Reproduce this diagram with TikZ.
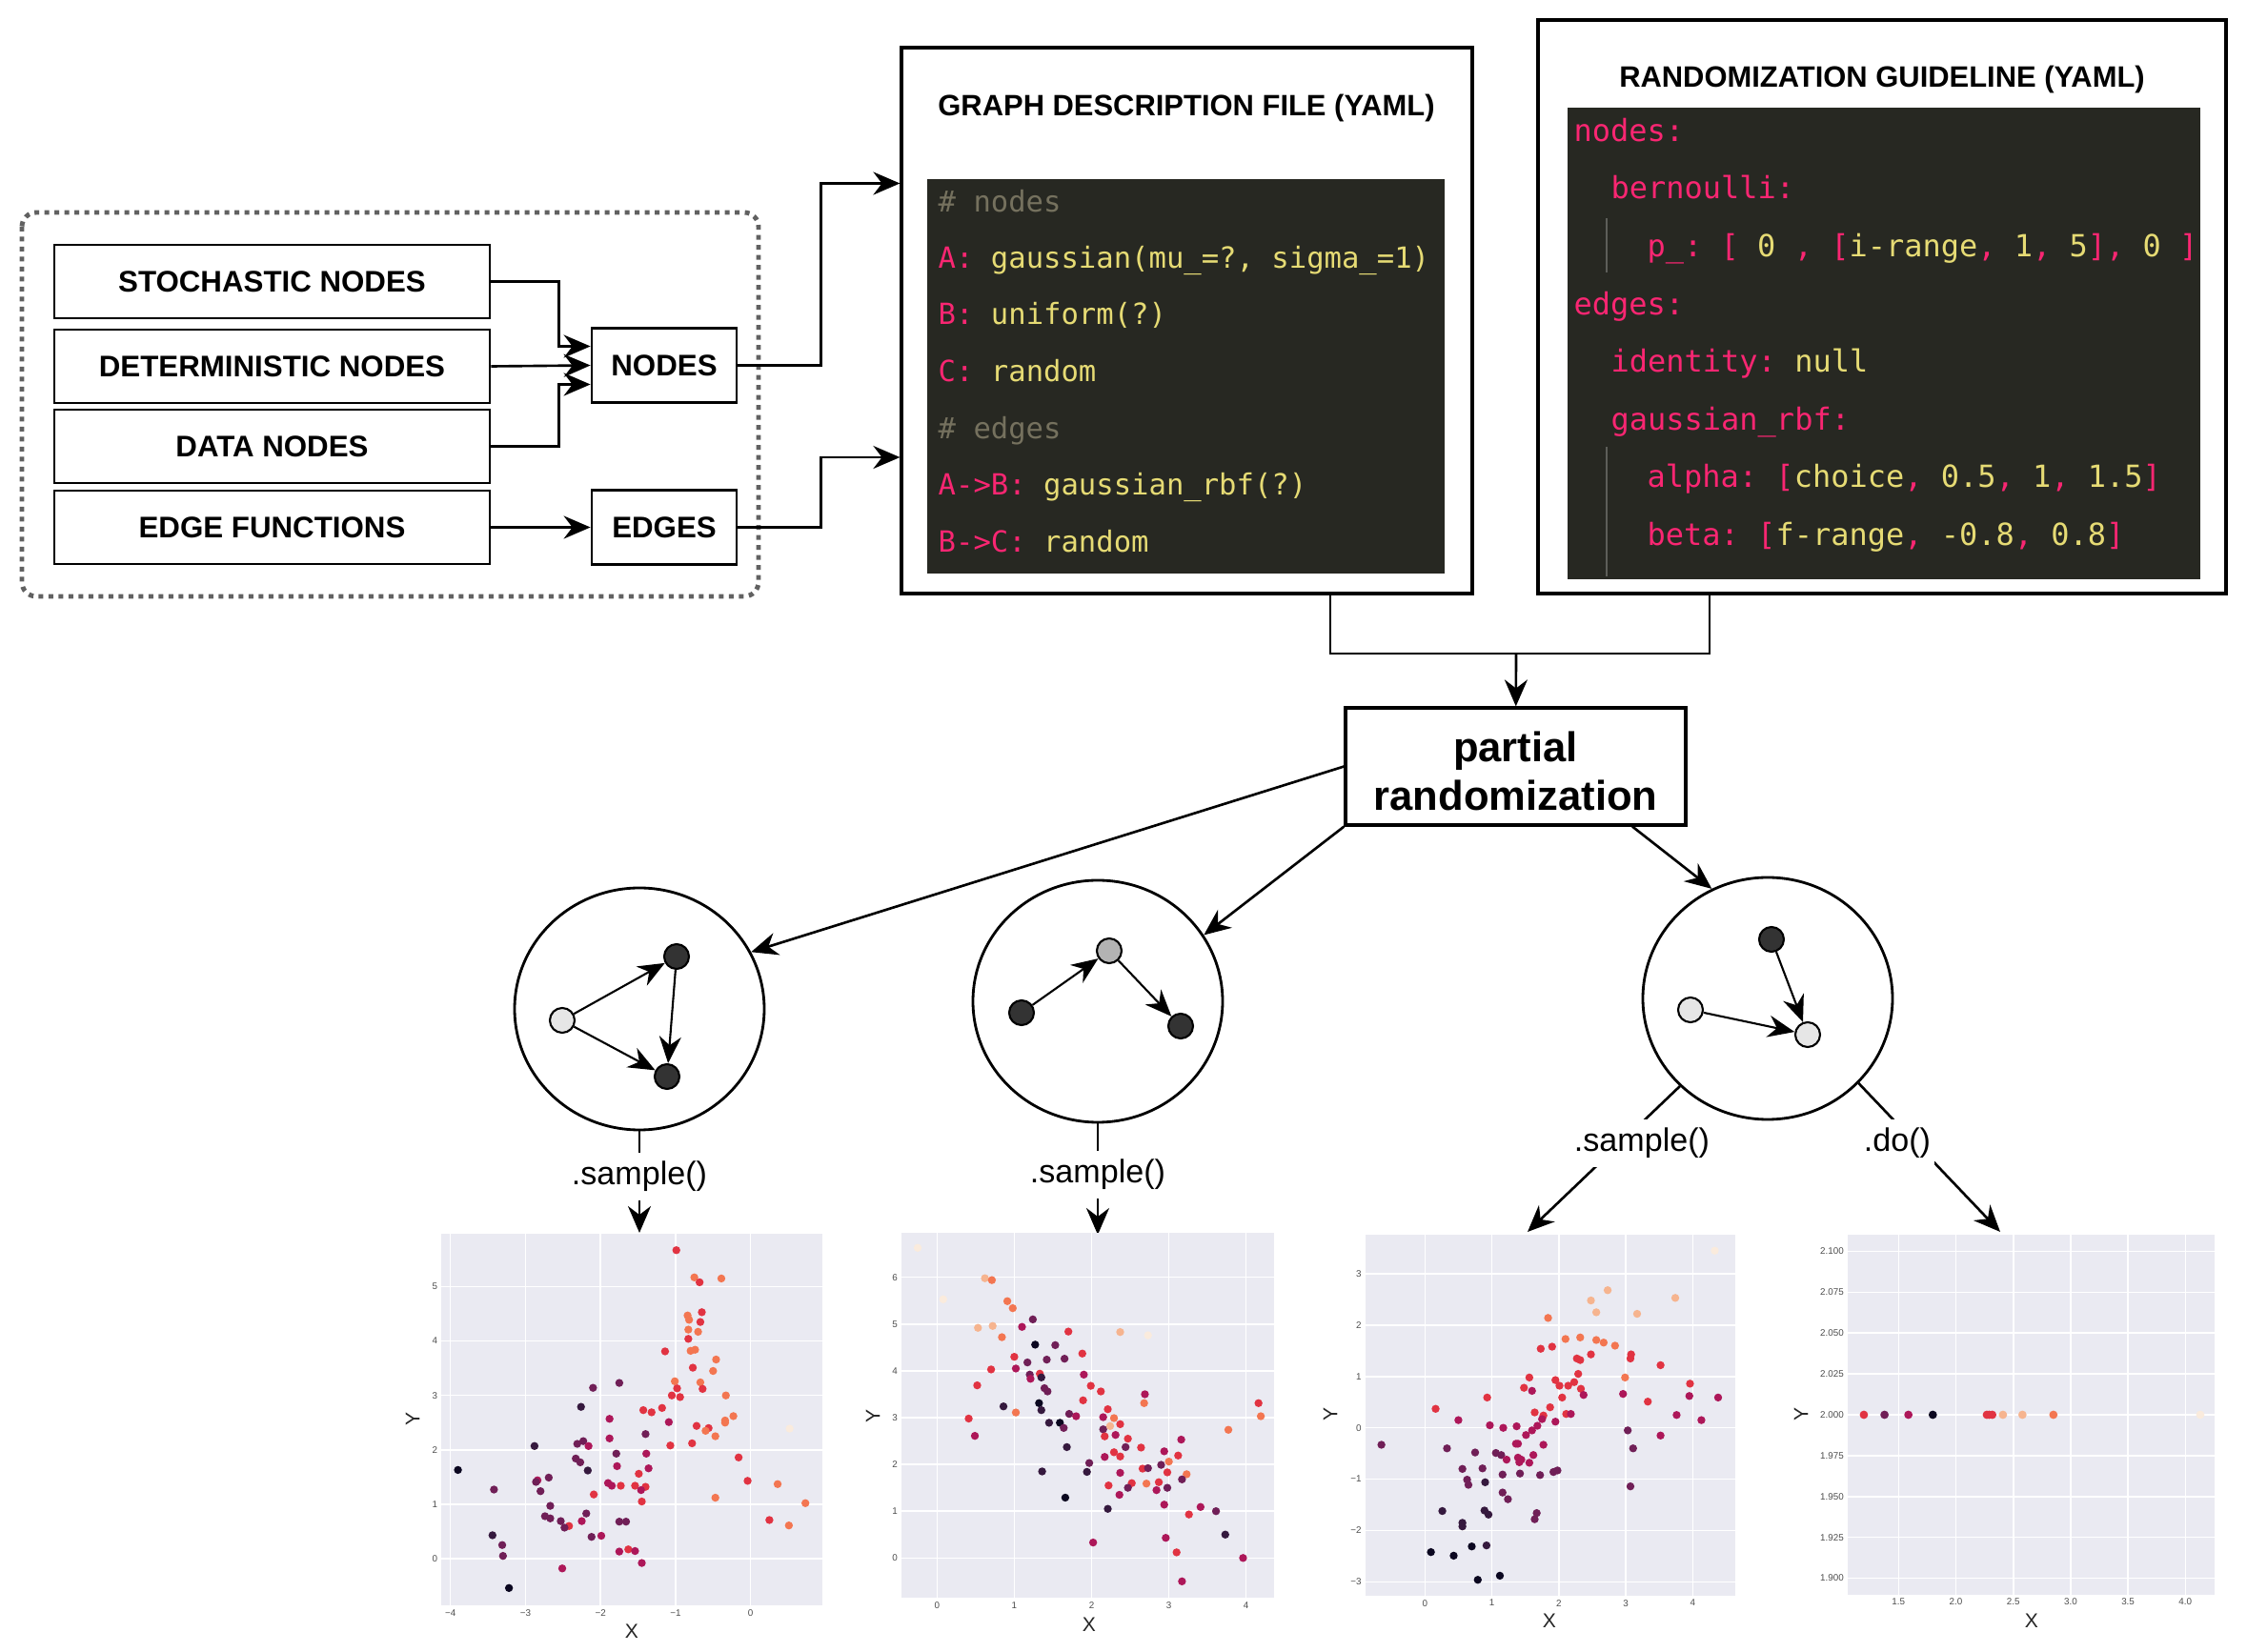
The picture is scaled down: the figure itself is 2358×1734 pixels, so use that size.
\documentclass[tikz,border=0pt]{standalone}
\usepackage{fontspec}
\setmainfont{Liberation Sans}
\newfontfamily\codefont{DejaVu Sans Mono}
\usetikzlibrary{arrows.meta,positioning,shapes.geometric}

\definecolor{ymlbg}{HTML}{272822}
\definecolor{ymlpink}{HTML}{F92672}
\definecolor{ymlyellow}{HTML}{E6DB74}
\definecolor{ymlgrey}{HTML}{75715E}
\definecolor{plotbg}{HTML}{EAEAF2}
\definecolor{tickgrey}{HTML}{4D4D4D}
\definecolor{nodedark}{HTML}{333333}
\definecolor{nodelight}{HTML}{E6E6E6}
\definecolor{nodemid}{HTML}{B3B3B3}
% rocket palette
\definecolor{rk0}{HTML}{0B0720}
\definecolor{rk1}{HTML}{35193E}
\definecolor{rk2}{HTML}{701F57}
\definecolor{rk3}{HTML}{AD1759}
\definecolor{rk4}{HTML}{E13342}
\definecolor{rk5}{HTML}{F37651}
\definecolor{rk6}{HTML}{F6B48F}
\definecolor{rk7}{HTML}{FAEBDD}

\newcommand{\ykey}[1]{\textcolor{ymlpink}{#1}}
\newcommand{\yval}[1]{\textcolor{ymlyellow}{#1}}

\tikzset{
  namebox/.style={draw, line width=0.8pt, inner sep=0pt, minimum width=45.7mm,
    minimum height=7.7mm, font=\fontsize{8.9}{10}\selectfont\bfseries},
  setbox/.style={draw, line width=0.8pt, inner sep=0pt, minimum width=15.2mm,
    minimum height=7.8mm, font=\fontsize{8.9}{10}\selectfont\bfseries},
  groupframe/.style={draw=black!62, line width=1.4pt, rounded corners=1.5mm,
    dash pattern=on 0.5mm off 0.55mm},
  filebox/.style={draw, line width=0.9pt, inner sep=0pt},
  titletext/.style={inner sep=0pt, font=\fontsize{8.8}{10}\selectfont\bfseries},
  codebox/.style={fill=ymlbg, inner sep=0pt},
  codeA/.style={anchor=west, inner sep=0pt, text height=2.1mm, text depth=0.6mm,
    font=\codefont\fontsize{8.7}{10}\selectfont\frenchspacing},
  codeB/.style={anchor=west, inner sep=0pt, text height=2.2mm, text depth=0.6mm,
    font=\codefont\fontsize{9.1}{10}\selectfont\frenchspacing},
  guide/.style={draw=white!25!ymlbg, line width=0.5pt},
  partialbox/.style={draw, line width=0.9pt, inner sep=0pt},
  partialtext/.style={inner sep=0pt, align=center,
    font=\fontsize{12.4}{14.5}\selectfont\bfseries},
  conn/.style={line width=0.75pt},
  graphcircle/.style={draw, ellipse, line width=0.8pt, inner sep=0pt,
    minimum width=26.2mm, minimum height=25.4mm},
  gdot/.style={draw, circle, line width=0.6pt, inner sep=0pt, minimum size=2.6mm},
  gedge/.style={line width=0.6pt, -{Stealth[length=2.8mm,width=2.3mm]}},
  calllbl/.style={fill=white, inner xsep=0.4mm, inner ysep=0.9mm,
    font=\fontsize{9.7}{11}\selectfont},
  gridline/.style={white, line width=0.45pt},
  ticklbl/.style={inner sep=0.35mm, text=tickgrey, font=\fontsize{2.8}{3}\selectfont},
  axislbl/.style={inner sep=0pt, text=black!85, font=\fontsize{6}{7}\selectfont},
}

\begin{document}
\begin{tikzpicture}[x=0.1mm, y=-0.1mm, >={Stealth[length=2.8mm,width=2.4mm]}]
  \useasboundingbox (0,0) rectangle (2358,1734);

  % node and edge types
  \draw[groupframe] (23,223) rectangle (796,626);
  \node[namebox] (stoch) at (285.5,295.5) {STOCHASTIC NODES};
  \node[namebox] (determ) at (285.5,384.5) {DETERMINISTIC NODES};
  \node[namebox] (datan) at (285.5,468.5) {DATA NODES};
  \node[namebox] (edgefn) at (285.5,553.5) {EDGE FUNCTIONS};
  \node[setbox] (nodeset) at (697,383.5) {NODES};
  \node[setbox] (edgeset) at (697,553.5) {EDGES};

  \draw[conn,->] (stoch.east) -- ++(71,0) |- ([yshift=2mm]nodeset.west);
  \draw[conn,->] (determ.east) -- (nodeset.west);
  \draw[conn,->] (datan.east) -- ++(71,0) |- ([yshift=-2mm]nodeset.west);
  \draw[conn,->] (edgefn.east) -- (edgeset.west);

  % graph description file
  \node[filebox, minimum width=59.9mm, minimum height=57.3mm] (graphfile) at (1245.5,336.5) {};
  \node[titletext] (graphtitle) at (1245,114) {GRAPH DESCRIPTION FILE (YAML)};
  \node[codebox, minimum width=54.3mm, minimum height=41.4mm] (graphcode) at (1244.5,395) {};
  \node[codeA] (g1) at (984,215) {\textcolor{ymlgrey}{\# nodes}};
  \node[codeA] (g2) at (984,274) {\ykey{A:} \yval{gaussian(mu\_=?, sigma\_=1)}};
  \node[codeA] (g3) at (984,333) {\ykey{B:} \yval{uniform(?)}};
  \node[codeA] (g4) at (984,393) {\ykey{C:} \yval{random}};
  \node[codeA] (g5) at (984,453) {\textcolor{ymlgrey}{\# edges}};
  \node[codeA] (g6) at (984,512) {\ykey{A->B:} \yval{gaussian\_rbf(?)}};
  \node[codeA] (g7) at (984,572) {\ykey{B->C:} \yval{random}};

  \draw[conn,->] (nodeset.east) -- ++(87,0) |- ([yshift=14.4mm]graphfile.west);
  \draw[conn,->] (edgeset.east) -- ++(87,0) |- ([yshift=-14.35mm]graphfile.west);

  % randomization guideline
  \node[filebox, minimum width=72.2mm, minimum height=60.2mm] (randguide) at (1975,322) {};
  \node[titletext] (randtitle) at (1975,84) {RANDOMIZATION GUIDELINE (YAML)};
  \node[codebox, minimum width=66.4mm, minimum height=49.5mm] (randcode) at (1977,360.5) {};
  \draw[guide] (1686,229) -- (1686,286);
  \draw[guide] (1686,469) -- (1686,605);
  \node[codeB] (r1) at (1651,141) {\ykey{nodes:}};
  \node[codeB] (r2) at (1690,201) {\ykey{bernoulli:}};
  \node[codeB] (r3) at (1728,262) {\ykey{p\_: [ }\yval{0}\ykey{\ , [}\yval{i-range}\ykey{,}\yval{\ 1}\ykey{,}\yval{\ 5}\ykey{],}\yval{\ 0}\ykey{\ ]}};
  \node[codeB] (r4) at (1651,323) {\ykey{edges:}};
  \node[codeB] (r5) at (1690,383) {\ykey{identity:} \yval{null}};
  \node[codeB] (r6) at (1690,444) {\ykey{gaussian\_rbf:}};
  \node[codeB] (r7) at (1728,504) {\ykey{alpha: [}\yval{choice}\ykey{,}\yval{\ 0.5}\ykey{,}\yval{\ 1}\ykey{,}\yval{\ 1.5}\ykey{]}};
  \node[codeB] (r8) at (1728,565) {\ykey{beta: [}\yval{f-range}\ykey{,}\yval{\ -0.8}\ykey{,}\yval{\ 0.8}\ykey{]}};

  % partial randomization
  \node[partialbox, minimum width=35.7mm, minimum height=12.3mm] (partial) at (1590.5,804.5) {};
  \node[partialtext] (partialtxt) at (1590.5,809) {partial\\randomization};
  \coordinate (merge) at (1591,686);
  \draw[conn] ([xshift=15.05mm]graphfile.south) |- (merge) -| ([xshift=-18.1mm]randguide.south);
  \draw[conn,->] (merge) -- (partial);

  % sampled graphs
  \node[graphcircle] (cA) at (671,1059) {};
  \node[graphcircle] (cB) at (1152,1051) {};
  \node[graphcircle] (cC) at (1855,1048) {};
  \draw[conn,->] (partial.west) -- (cA.27);
  \draw[conn,->] (partial.south west) -- (cB.32);
  \draw[conn,->] ([xshift=12.25mm]partial.south) -- (cC.117);

  \node[gdot, fill=nodelight] (a1) at (590,1071) {};
  \node[gdot, fill=nodedark] (a2) at (710,1004) {};
  \node[gdot, fill=nodedark] (a3) at (700,1130) {};
  \draw[gedge] (a1) -- (a2);
  \draw[gedge] (a1) -- (a3);
  \draw[gedge] (a2) -- (a3);

  \node[gdot, fill=nodedark] (b1) at (1072,1063) {};
  \node[gdot, fill=nodemid] (b2) at (1164,998) {};
  \node[gdot, fill=nodedark] (b3) at (1239,1077) {};
  \draw[gedge] (b1) -- (b2);
  \draw[gedge] (b2) -- (b3);

  \node[gdot, fill=nodedark] (c1) at (1859,986) {};
  \node[gdot, fill=nodelight] (c2) at (1774,1060) {};
  \node[gdot, fill=nodelight] (c3) at (1897,1086) {};
  \draw[gedge] (c1) -- (c3);
  \draw[gedge] (c2) -- (c3);

  % calls
  \coordinate (p1top) at (671,1294);
  \coordinate (p2top) at (1152,1296);
  \coordinate (p3top) at (1603,1293);
  \coordinate (p4top) at (2099,1293);
  \draw[conn,->] (cA.south) -- (p1top);
  \draw[conn,->] (cB.south) -- (p2top);
  \draw[conn,->] (cC.225) -- (p3top);
  \draw[conn,->] (cC.-43) -- (p4top);
  \node[calllbl] (callA) at (671,1235) {.sample()};
  \node[calllbl] (callB) at (1152,1233) {.sample()};
  \node[calllbl] (callC) at (1723,1200) {.sample()};
  \node[calllbl] (callD) at (1991,1200) {.do()};

  % scatter plot 1
  \begin{scope}[shift={(787.7,1636)}, x=7.875mm, y=5.71mm]
    \fill[plotbg] (-4.12,-0.86) rectangle (0.96,5.97);
    \foreach \gx in {-4,...,0} \draw[gridline] (\gx,-0.86) -- (\gx,5.97);
    \foreach \gy in {0,...,5} \draw[gridline] (-4.12,\gy) -- (0.96,\gy);
    \foreach \gx/\gl in {-4/−4,-3/−3,-2/−2,-1/−1,0/0}
      \node[ticklbl, anchor=north] (t1x\gx) at (\gx,-0.86) {\gl};
    \foreach \gy in {0,...,5}
      \node[ticklbl, anchor=east] (t1y\gy) at (-4.12,\gy) {\gy};
    \foreach \px/\py/\pc in {-0.99/5.67/4, -0.75/5.17/5, -0.68/5.08/4, -0.39/5.15/5,
      -0.84/4.47/5, -0.82/4.39/5, -0.65/4.53/4, -0.67/4.35/4, -0.83/4.21/5, -0.70/4.17/5,
      -0.83/4.04/4, -1.14/3.81/4, -0.80/3.82/5, -0.74/3.84/5, -0.46/3.66/5, -0.77/3.51/4,
      -0.50/3.45/5, -1.01/3.26/5, -0.67/3.24/5, -0.98/3.13/4, -0.64/3.12/4, -1.75/3.23/2,
      -2.10/3.14/2, -1.05/3.00/4, -0.94/2.97/4, -0.33/3.00/5, -2.26/2.79/1, -1.43/2.73/4,
      -1.32/2.69/4, -1.18/2.77/4, -0.23/2.62/5, -1.88/2.57/3, -1.09/2.51/3, -0.34/2.54/5,
      -0.34/2.50/5, 0.52/2.39/7, -0.72/2.44/4, -0.56/2.40/4, -0.60/2.35/5, -0.47/2.25/5,
      -1.40/2.29/2, -1.88/2.21/3, -2.88/2.07/1, -2.31/2.11/2, -2.23/2.16/2, -2.16/2.07/3,
      -1.07/2.08/4, -0.78/2.12/4, -1.79/1.93/2, -1.39/1.93/3, -2.33/1.84/2, -2.27/1.77/2,
      -0.16/1.86/4, -3.90/1.63/0, -2.17/1.62/1, -1.78/1.70/3, -1.36/1.66/3, -1.49/1.56/4,
      -2.69/1.49/2, -2.84/1.44/3, -2.86/1.41/2, -1.90/1.39/3, -1.85/1.34/3, -1.73/1.34/4,
      -1.54/1.34/4, -1.40/1.32/4, -0.04/1.43/4, 0.36/1.37/5, -3.42/1.27/2, -2.80/1.24/2,
      -1.46/1.26/3, -2.09/1.18/4, -1.45/1.05/4, -0.47/1.12/5, 0.73/1.02/5, -2.67/0.97/2,
      -2.74/0.78/2, -2.67/0.74/2, -2.19/0.83/2, -2.53/0.69/2, -2.25/0.69/3, -1.75/0.68/2,
      -1.66/0.68/2, 0.25/0.71/4, -2.42/0.60/4, -2.48/0.57/2, 0.51/0.61/5, -3.44/0.43/1,
      -2.12/0.40/2, -1.99/0.42/3, -3.31/0.25/2, -3.30/0.05/2, -1.75/0.13/3, -1.63/0.17/4,
      -1.54/0.14/3, -1.45/-0.08/3, -2.51/-0.18/3, -3.22/-0.54/0}
      \fill[rk\pc] (\px,\py) circle[radius=0.42mm];
  \end{scope}
  \node[axislbl] (xlbl1) at (663,1712) {X};
  \node[axislbl, rotate=90] (ylbl1) at (433,1489) {Y};

  % scatter plot 2
  \begin{scope}[shift={(983.3,1635.3)}, x=8.11mm, y=4.91mm]
    \fill[plotbg] (-0.46,-0.85) rectangle (4.36,6.95);
    \foreach \gx in {0,...,4} \draw[gridline] (\gx,-0.85) -- (\gx,6.95);
    \foreach \gy in {0,...,6} \draw[gridline] (-0.46,\gy) -- (4.36,\gy);
    \foreach \gx in {0,...,4}
      \node[ticklbl, anchor=north] (t2x\gx) at (\gx,-0.85) {\gx};
    \foreach \gy in {0,...,6}
      \node[ticklbl, anchor=east] (t2y\gy) at (-0.46,\gy) {\gy};
    \foreach \px/\py/\pc in {-0.25/6.63/7, 0.62/5.98/6, 0.71/5.94/5, 0.08/5.53/7,
      0.91/5.49/5, 0.98/5.34/5, 0.53/4.92/6, 0.72/4.96/6, 1.24/5.10/2, 1.10/4.94/3,
      1.70/4.84/4, 2.37/4.83/6, 2.73/4.76/7, 0.84/4.72/5, 1.27/4.56/0, 1.53/4.55/2,
      1.88/4.37/4, 1.00/4.30/4, 1.17/4.18/2, 1.42/4.24/2, 1.65/4.26/2, 0.70/4.03/4,
      1.02/4.05/3, 1.20/3.92/2, 1.33/3.94/4, 1.35/3.86/1, 1.21/3.83/3, 1.90/3.92/3,
      0.52/3.69/4, 1.99/3.68/4, 1.39/3.63/2, 1.43/3.56/2, 2.12/3.56/4, 2.69/3.50/3,
      1.89/3.37/4, 1.32/3.31/0, 2.68/3.31/5, 4.16/3.31/4, 0.86/3.24/1, 1.35/3.16/1,
      1.02/3.11/5, 1.71/3.08/2, 1.80/3.03/3, 4.19/3.03/5, 0.41/2.98/4, 2.15/3.01/3,
      2.21/3.18/4, 2.29/2.99/5, 1.45/2.89/1, 1.59/2.89/0, 2.37/2.86/4, 1.64/2.78/2,
      2.24/2.82/6, 2.15/2.75/2, 2.17/2.60/4, 2.31/2.63/3, 0.49/2.61/3, 3.77/2.74/5,
      2.47/2.55/4, 3.16/2.53/3, 1.68/2.37/1, 2.44/2.37/2, 2.64/2.36/4, 2.94/2.28/3,
      2.29/2.26/4, 2.37/2.17/4, 2.17/2.16/3, 3.12/2.19/4, 1.97/2.03/2, 3.00/2.06/5,
      2.90/1.99/2, 2.66/1.91/4, 2.73/1.92/2, 1.36/1.85/1, 1.94/1.84/1, 2.37/1.82/3,
      2.98/1.83/4, 3.23/1.79/5, 3.17/1.68/2, 2.22/1.55/4, 2.52/1.60/4, 2.71/1.59/5,
      2.87/1.62/4, 2.47/1.50/2, 2.98/1.50/2, 2.84/1.45/3, 2.36/1.35/3, 1.66/1.29/0,
      2.94/1.14/3, 3.41/1.09/3, 3.61/1.00/2, 2.21/1.05/1, 3.26/0.93/4, 3.73/0.50/1,
      2.96/0.43/3, 2.02/0.33/3, 3.10/0.12/4, 3.96/0.00/3, 3.17/-0.50/3}
      \fill[rk\pc] (\px,\py) circle[radius=0.42mm];
  \end{scope}
  \node[axislbl] (xlbl2) at (1143,1705) {X};
  \node[axislbl, rotate=90] (ylbl2) at (916,1486) {Y};

  % scatter plot 3
  \begin{scope}[shift={(1495.3,1498.7)}, x=7.025mm, y=5.39mm]
    \fill[plotbg] (-0.89,-3.27) rectangle (4.63,3.76);
    \foreach \gx in {0,...,4} \draw[gridline] (\gx,-3.27) -- (\gx,3.76);
    \foreach \gy in {-3,...,3} \draw[gridline] (-0.89,\gy) -- (4.63,\gy);
    \foreach \gx in {0,...,4}
      \node[ticklbl, anchor=north] (t3x\gx) at (\gx,-3.27) {\gx};
    \foreach \gy/\gl in {-3/−3,-2/−2,-1/−1,0/0,1/1,2/2,3/3}
      \node[ticklbl, anchor=east] (t3y\gy) at (-0.89,\gy) {\gl};
    \foreach \px/\py/\pc in {4.33/3.45/7, 2.73/2.68/6, 2.48/2.48/6, 2.56/2.25/6,
      3.74/2.53/6, 3.17/2.22/6, 1.84/2.14/5, 2.10/1.73/5, 2.32/1.76/5, 2.56/1.71/5,
      2.67/1.66/5, 2.84/1.60/5, 1.73/1.54/4, 1.90/1.58/4, 2.48/1.43/4, 3.08/1.43/4,
      3.07/1.35/4, 2.27/1.35/4, 2.32/1.32/4, 3.52/1.22/4, 2.29/1.05/4, 1.56/0.98/4,
      2.99/0.98/5, 1.95/0.93/4, 3.96/0.86/4, 2.01/0.82/4, 2.14/0.82/4, 2.23/0.89/4,
      1.48/0.78/4, 1.60/0.72/3, 2.33/0.76/4, 2.37/0.64/3, 2.96/0.66/3, 3.95/0.62/3,
      0.93/0.59/4, 2.05/0.59/4, 4.38/0.59/3, 0.16/0.37/4, 3.33/0.51/4, 1.87/0.40/4,
      1.64/0.30/4, 3.76/0.25/3, 1.77/0.24/4, 2.11/0.27/4, 2.18/0.27/3, 1.75/0.17/3,
      0.50/0.15/3, 4.13/0.15/3, 1.95/0.12/3, 0.97/0.05/3, 1.37/0.03/3, 1.17/0.00/3,
      1.68/0.04/3, 1.60/-0.05/3, 3.03/-0.05/2, 1.51/-0.14/3, 3.52/-0.15/3, 1.36/-0.31/3,
      1.39/-0.31/3, 1.77/-0.33/3, -0.65/-0.33/2, 0.33/-0.40/2, 3.11/-0.40/2, 0.75/-0.48/2,
      1.06/-0.49/2, 1.14/-0.53/2, 1.22/-0.62/3, 1.39/-0.58/3, 1.44/-0.62/3, 1.41/-0.67/3,
      1.62/-0.53/3, 1.56/-0.68/3, 0.56/-0.80/2, 0.86/-0.79/2, 1.16/-0.91/2, 1.42/-0.89/2,
      1.72/-0.92/2, 1.92/-0.86/2, 1.98/-0.83/2, 0.63/-1.01/2, 0.65/-1.11/2, 0.90/-1.06/1,
      3.07/-1.14/2, 1.16/-1.26/2, 1.24/-1.39/2, 0.26/-1.62/1, 0.89/-1.61/1, 0.95/-1.69/1,
      1.67/-1.66/2, 1.64/-1.78/2, 0.56/-1.85/1, 0.56/-1.92/1, 0.70/-2.31/0, 0.92/-2.29/1,
      0.09/-2.42/0, 0.43/-2.49/0, 1.12/-2.88/0, 0.79/-2.96/0}
      \fill[rk\pc] (\px,\py) circle[radius=0.42mm];
  \end{scope}
  \node[axislbl] (xlbl3) at (1626,1701) {X};
  \node[axislbl, rotate=90] (ylbl3) at (1396,1484) {Y};

  % scatter plot 4 (y in steps of 0.025 around 2.000)
  \begin{scope}[shift={(1811.7,1485)}, x=12.04mm, y=4.29mm]
    \fill[plotbg] (1.057,-4.4) rectangle (4.258,4.41);
    \foreach \gx in {1.5,2.0,2.5,3.0,3.5,4.0} \draw[gridline] (\gx,-4.4) -- (\gx,4.41);
    \foreach \gy in {-4,...,4} \draw[gridline] (1.057,\gy) -- (4.258,\gy);
    \foreach \gx [count=\gi] in {1.5,2.0,2.5,3.0,3.5,4.0}
      \node[ticklbl, anchor=north] (t4x\gi) at (\gx,-4.4) {\gx};
    \foreach \gy/\gl [count=\gi] in {-4/1.900,-3/1.925,-2/1.950,-1/1.975,0/2.000,1/2.025,2/2.050,3/2.075,4/2.100}
      \node[ticklbl, anchor=east] (t4y\gi) at (1.057,\gy) {\gl};
    \foreach \px/\pc in {1.198/4, 1.378/2, 1.586/3, 1.799/0, 2.270/4, 2.290/4, 2.317/4,
      2.410/6, 2.580/6, 2.850/5, 4.130/7}
      \fill[rk\pc] (\px,0) circle[radius=0.44mm];
  \end{scope}
  \node[axislbl] (xlbl4) at (2132,1701) {X};
  \node[axislbl, rotate=90] (ylbl4) at (1890,1484) {Y};
\end{tikzpicture}
\end{document}
